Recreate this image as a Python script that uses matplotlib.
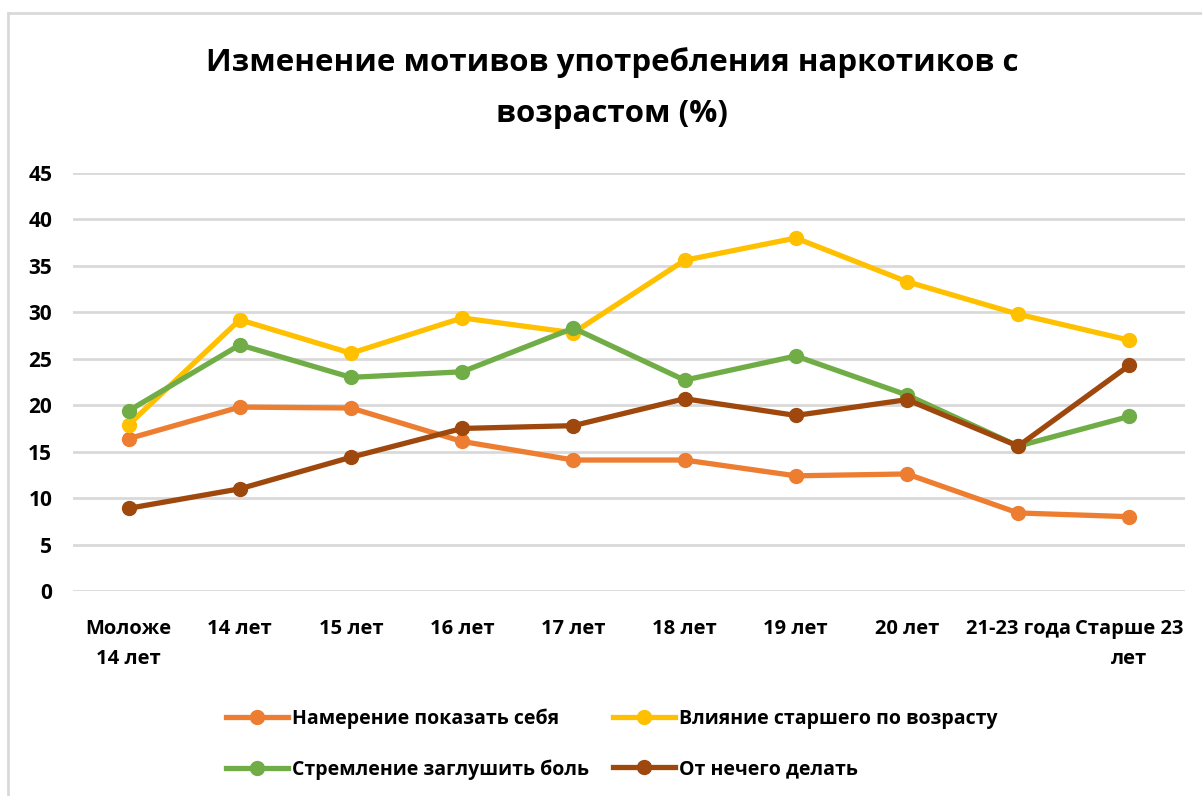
import matplotlib
matplotlib.use("Agg")
import matplotlib.pyplot as plt
from matplotlib.lines import Line2D

plt.rcParams['font.family'] = ['Open Sans', 'DejaVu Sans']

categories = ["Моложе\n14 лет", "14 лет", "15 лет", "16 лет", "17 лет", "18 лет",
              "19 лет", "20 лет", "21-23 года", "Старше 23\nлет"]
show_self = [16.4, 19.8, 19.7, 16.1, 14.1, 14.1, 12.4, 12.6, 8.4, 8.0]
elder_influence = [17.9, 29.2, 25.6, 29.4, 27.8, 35.6, 38.0, 33.3, 29.8, 27.0]
dull_pain = [19.4, 26.5, 23.0, 23.6, 28.3, 22.7, 25.3, 21.1, 15.6, 18.8]
nothing_to_do = [8.9, 11.0, 14.4, 17.5, 17.8, 20.7, 18.9, 20.6, 15.6, 24.3]

series_names = ["Намерение показать себя", "Влияние старшего по возрасту",
                "Стремление заглушить боль", "От нечего делать"]
y_ticks = [0, 5, 10, 15, 20, 25, 30, 35, 40, 45]
title = "Изменение мотивов употребления наркотиков с\nвозрастом (%)"

colors = ["#ED7D31", "#FFC000", "#70AD47", "#9E480E"]

fig = plt.figure(figsize=(12.02, 7.96), dpi=100)
ax = fig.add_axes([73/1202, 1-591/796, (1185-73)/1202, (591-173)/796])

x = list(range(len(categories)))
all_series = [show_self, elder_influence, dull_pain, nothing_to_do]
for vals, name, c in zip(all_series, series_names, colors):
    ax.plot(x, vals, color=c, lw=3.8, marker='o', markersize=10,
            solid_capstyle='round', solid_joinstyle='round', label=name, zorder=3)

ax.set_ylim(0, 45)
ax.set_xlim(-0.5, len(categories) - 0.5)
ax.set_yticks(y_ticks)
ax.set_xticks(x)
ax.set_xticklabels(categories, fontsize=14.5, fontweight='bold', linespacing=1.65)
ax.set_yticklabels([str(t) for t in y_ticks], fontsize=15, fontweight='bold')
ax.tick_params(axis='both', length=0)
ax.tick_params(axis='x', pad=20)
ax.tick_params(axis='y', pad=15)
ax.grid(axis='y', color='#D9D9D9', lw=2)
ax.set_axisbelow(True)
for s in ax.spines.values():
    s.set_visible(False)

fig.text(0.509, 1-88/796, title, ha='center', va='center', fontsize=22.5,
         fontweight='bold', linespacing=1.9)

# legend (row-wise order like the reference)
order = [0, 2, 1, 3]
leg_handles = [Line2D([0], [0], color=colors[i], lw=3.8, marker='o', markersize=10) for i in order]
leg_labels = [series_names[i] for i in order]
fig.legend(leg_handles, leg_labels, ncol=2, loc='center',
           bbox_to_anchor=(0.509, 1-744/796), frameon=False,
           prop={'size': 14, 'weight': 'bold'}, handlelength=3.2,
           handletextpad=0.2, columnspacing=1.2, labelspacing=1.55)

# chart border
fig.add_artist(Line2D([8/1202, 1], [1-13/796, 1-13/796], color='#D9D9D9', lw=2))
fig.add_artist(Line2D([8/1202, 8/1202], [0, 1-13/796], color='#D9D9D9', lw=2))

fig.savefig("out.png", dpi=100)
